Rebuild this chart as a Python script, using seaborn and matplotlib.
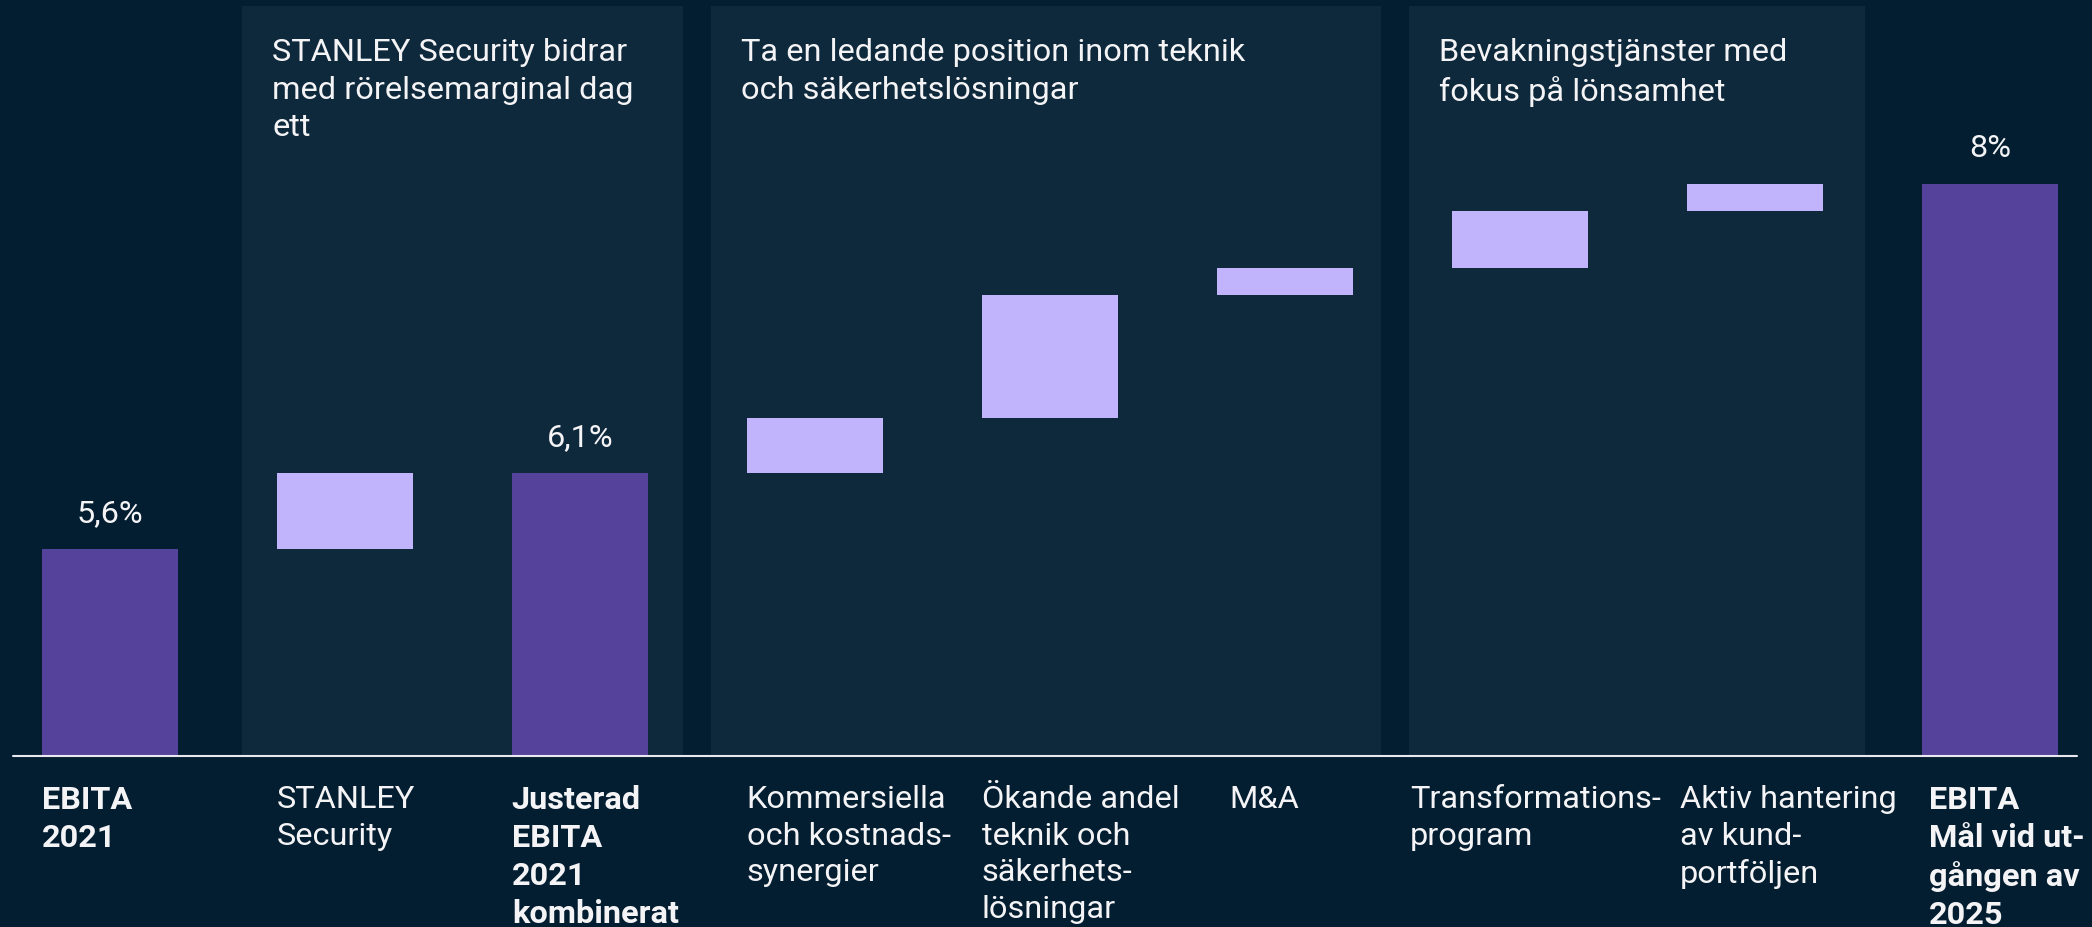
import matplotlib
matplotlib.use("Agg")
import matplotlib.pyplot as plt
import seaborn as sns
import numpy as np
import pandas as pd

# x categories (bottom labels)
categories = ["EBITA\n2021", "STANLEY\nSecurity", "Justerad\nEBITA\n2021\nkombinerat",
              "Kommersiella\noch kostnads-\nsynergier",
              "Ökande andel\nteknik och\nsäkerhets-\nlösningar",
              "M&A", "Transformations-\nprogram",
              "Aktiv hantering\nav kund-\nportföljen",
              "EBITA\nMål vid ut-\ngången av\n2025"]
bold_cats = [categories[0], categories[2], categories[8]]

# EBITA margin totals (%)
total_cats = [categories[0], categories[2], categories[8]]
total_values = [5.6, 6.1, 8.0]
total_labels = ["5,6%", "6,1%", "8%"]

# bridge steps (percentage points)
step_cats = [categories[1], categories[3], categories[4], categories[5], categories[6], categories[7]]
step_values = [0.5, 0.36, 0.81, 0.18, 0.37, 0.18]
step_starts = [total_values[0]] + list(total_values[1] + np.cumsum([0] + step_values[1:-1]))

# shaded groups
panel_titles = ["STANLEY Security bidrar\nmed rörelsemarginal dag\nett",
                "Ta en ledande position inom teknik\noch säkerhetslösningar",
                "Bevakningstjänster med\nfokus på lönsamhet"]

BG = "#041E31"
PANEL = "#0F293C"
DARK = "#55439B"
LIGHT = "#C2B4FC"
TXT = "#F4F4F6"
FS = 23.4

sns.set_theme(style="white")
plt.rcParams["font.family"] = ["Roboto", "DejaVu Sans"]

W, H = 2092, 928
base_px = 756.5              # baseline, px from top
fig = plt.figure(figsize=(W / 100, H / 100), dpi=100, facecolor=BG)
ax = fig.add_axes([0, (H - base_px) / H, 1, base_px / H])
ax.set_facecolor(BG)

ymin = 4.24
ppp = 152.0                  # px per percent

def px_x(p):
    return (p - 110) / 235

def px_y(p):
    return (base_px - p) / base_px

# panels
spans = [(242, 683), (711, 1381), (1409, 1865)]
for (a, b), t in zip(spans, panel_titles):
    ax.axvspan(px_x(a), px_x(b), ymin=0, ymax=px_y(7), color=PANEL, lw=0, zorder=0)
    ax.text(px_x(a + 30), px_y(38), t, transform=ax.get_xaxis_transform(),
            ha="left", va="top", color=TXT, fontsize=FS, linespacing=1.38)

tot = pd.DataFrame({"cat": total_cats, "val": total_values})
stp = pd.DataFrame({"cat": step_cats, "val": step_values})

sns.barplot(data=tot, x="cat", y="val", order=categories, color=DARK, saturation=1,
            width=0.58, errorbar=None, linewidth=0, ax=ax, zorder=2)
sns.barplot(data=stp, x="cat", y="val", order=categories, color=LIGHT, saturation=1,
            width=0.58, errorbar=None, linewidth=0, bottom=step_starts, ax=ax, zorder=2)

ax.set_xlim(-110 / 235, (W - 110) / 235)
ax.set_ylim(ymin, ymin + base_px / ppp)

for c, v, lab in zip(total_cats, total_values, total_labels):
    ax.annotate(lab, (categories.index(c), v), xytext=(0, 26), textcoords="offset points",
                ha="center", va="center", color=TXT, fontsize=FS)

ax.axhline(ymin, xmin=13 / W, xmax=2077 / W, color="#E8E8EE", lw=1.5, zorder=3, clip_on=False)

# bottom labels
shift_px = [0, 0, 0, 0, 0, 13, -42, -7, 7]
for i, (c, s) in enumerate(zip(categories, shift_px)):
    ax.text(i - 0.29 + s / 235, px_y(785), c, transform=ax.get_xaxis_transform(),
            ha="left", va="top", color=TXT, fontsize=FS, linespacing=1.33,
            fontweight="bold" if c in bold_cats else "normal", clip_on=False)

ax.set_xticks([])
ax.set_yticks([])
ax.set_xlabel("")
ax.set_ylabel("")
sns.despine(ax=ax, left=True, bottom=True)

fig.savefig("out.png", dpi=100, facecolor=BG)
